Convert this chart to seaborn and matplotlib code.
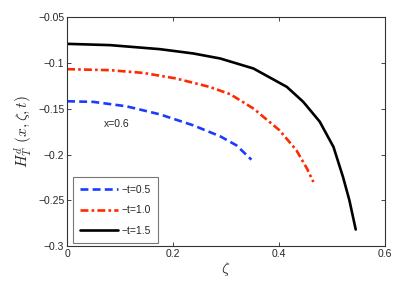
"""H_T^d(x, zeta, t) vs zeta for several t at x=0.6."""

import matplotlib
matplotlib.use("Agg")
import matplotlib.pyplot as plt
import pandas as pd
import seaborn as sns

# data
zeta_t05 = [0.0, 0.05, 0.112, 0.175, 0.238, 0.289, 0.32, 0.348]
h_t05 = [-0.1417, -0.1424, -0.1472, -0.156, -0.168, -0.180, -0.190, -0.2056]

zeta_t10 = [0.0, 0.081, 0.144, 0.206, 0.269, 0.308, 0.352, 0.401, 0.433, 0.453, 0.465]
h_t10 = [-0.1066, -0.1077, -0.1107, -0.1168, -0.126, -0.134, -0.1497, -0.1734,
         -0.1953, -0.2154, -0.230]

zeta_t15 = [0.0, 0.081, 0.175, 0.238, 0.289, 0.352, 0.415, 0.446, 0.477, 0.503,
            0.521, 0.533, 0.545]
h_t15 = [-0.0789, -0.0803, -0.0847, -0.0894, -0.0949, -0.1059, -0.126, -0.1424,
         -0.164, -0.1917, -0.2246, -0.250, -0.282]

labels = ["\u2212t=0.5", "\u2212t=1.0", "\u2212t=1.5"]

sns.set_style("white")
plt.rcParams["font.family"] = ["Liberation Sans", "DejaVu Sans"]
plt.rcParams["mathtext.fontset"] = "cm"

fig = plt.figure(figsize=(4.09, 2.81), dpi=100)
ax = fig.add_axes([0.164, 0.1246, 0.777, 0.8134])

series = [
    (zeta_t05, h_t05, "#1a3cff", (0, (3, 1.6))),
    (zeta_t10, h_t10, "#ff2a00", (0, (3, 1.2, 1, 1.2))),
    (zeta_t15, h_t15, "black", "-"),
]
for (xs, ys, color, ls), lab in zip(series, labels):
    df = pd.DataFrame({"zeta": xs, "H": ys})
    sns.lineplot(data=df, x="zeta", y="H", ax=ax, color=color,
                 linestyle=ls, linewidth=1.9, label=lab, sort=False)

ax.set_xlim(0, 0.6)
ax.set_ylim(-0.3, -0.05)
ax.set_xticks([0, 0.2, 0.4, 0.6])
ax.set_xticklabels(["0", "0.2", "0.4", "0.6"])
ax.set_yticks([-0.3, -0.25, -0.2, -0.15, -0.1, -0.05])
ax.set_yticklabels(["\u22120.3", "\u22120.25", "\u22120.2", "\u22120.15", "\u22120.1", "\u22120.05"])
ax.tick_params(direction="in", length=3, width=0.6, labelsize=7.5,
               top=True, right=True, bottom=True, left=True, pad=2)
for spine in ax.spines.values():
    spine.set_edgecolor("#333333")
    spine.set_linewidth(0.8)

ax.set_xlabel(r"$\zeta$", fontsize=11, labelpad=1)
ax.set_ylabel(r"$H_T^d\ (x,\zeta,t)$", fontsize=11, labelpad=2)

ax.text(0.07, -0.167, "x=0.6", fontsize=7.5, ha="left", va="center")

leg = ax.legend(loc="lower left", fontsize=7.5, frameon=True, fancybox=False,
                edgecolor="#555555", handlelength=3.6, labelspacing=1.0,
                borderpad=0.7, handletextpad=0.4, borderaxespad=0.3,
                bbox_to_anchor=(0.008, 0.0))
leg.get_frame().set_linewidth(0.8)

fig.savefig("out.png", dpi=100)
plt.close(fig)
